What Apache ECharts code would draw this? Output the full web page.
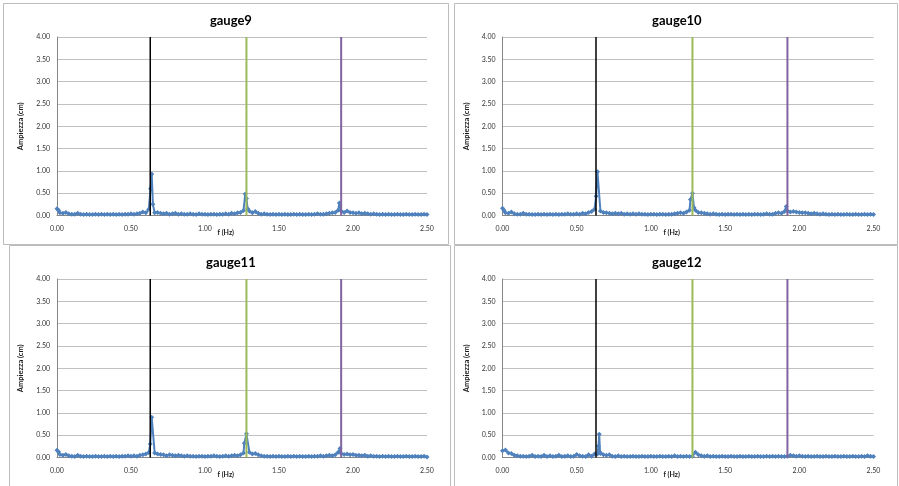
<!DOCTYPE html>
<html>
<head>
<meta charset="utf-8">
<script src="https://cdn.jsdelivr.net/npm/echarts@6/dist/echarts.min.js"></script>
<style>
html,body{margin:0;padding:0;background:#fff;}
#chart{width:899px;height:486px;}
</style>
</head>
<body>
<div id="chart"></div>
<script>
// Shared frequency grid (Hz)
const freq = [0.00,0.02,0.04,0.06,0.08,0.10,0.12,0.14,0.16,0.18,0.20,0.22,0.24,0.26,0.28,0.30,0.32,0.34,0.36,0.38,0.40,0.42,0.44,0.46,0.48,0.50,0.52,0.54,0.56,0.58,0.60,0.62,0.64,0.66,0.68,0.70,0.72,0.74,0.76,0.78,0.80,0.82,0.84,0.86,0.88,0.90,0.92,0.94,0.96,0.98,1.00,1.02,1.04,1.06,1.08,1.10,1.12,1.14,1.16,1.18,1.20,1.22,1.24,1.26,1.28,1.30,1.32,1.34,1.36,1.38,1.40,1.42,1.44,1.46,1.48,1.50,1.52,1.54,1.56,1.58,1.60,1.62,1.64,1.66,1.68,1.70,1.72,1.74,1.76,1.78,1.80,1.82,1.84,1.86,1.88,1.90,1.92,1.94,1.96,1.98,2.00,2.02,2.04,2.06,2.08,2.10,2.12,2.14,2.16,2.18,2.20,2.22,2.24,2.26,2.28,2.30,2.32,2.34,2.36,2.38,2.40,2.42,2.44,2.46,2.48,2.50];

const gauge9 = [0.15,0.06,0.05,0.07,0.04,0.03,0.03,0.05,0.03,0.02,0.03,0.02,0.02,0.03,0.02,0.03,0.02,0.03,0.02,0.03,0.02,0.03,0.02,0.03,0.03,0.04,0.03,0.04,0.05,0.08,0.06,0.14,0.93,0.06,0.07,0.05,0.04,0.05,0.03,0.04,0.05,0.03,0.04,0.03,0.03,0.04,0.03,0.02,0.04,0.03,0.03,0.02,0.03,0.03,0.02,0.03,0.03,0.04,0.03,0.05,0.04,0.06,0.07,0.11,0.38,0.10,0.06,0.09,0.05,0.03,0.04,0.03,0.02,0.03,0.02,0.03,0.02,0.03,0.02,0.02,0.03,0.02,0.03,0.02,0.02,0.03,0.02,0.03,0.04,0.03,0.03,0.04,0.05,0.06,0.07,0.12,0.10,0.07,0.10,0.07,0.06,0.05,0.06,0.04,0.05,0.04,0.03,0.04,0.03,0.02,0.03,0.02,0.03,0.02,0.02,0.03,0.02,0.02,0.03,0.02,0.02,0.03,0.02,0.02,0.03,0.02];
const gauge9Extra = [[0.01,0.12],[0.632,0.60],[0.648,0.25],[1.272,0.48],[1.288,0.15],[1.908,0.28]];

const gauge10 = [0.16,0.06,0.05,0.08,0.04,0.03,0.03,0.05,0.03,0.03,0.02,0.02,0.03,0.02,0.03,0.02,0.03,0.02,0.03,0.02,0.03,0.03,0.04,0.03,0.03,0.04,0.03,0.05,0.04,0.07,0.09,0.14,0.98,0.10,0.07,0.06,0.05,0.04,0.05,0.04,0.05,0.03,0.04,0.03,0.04,0.03,0.04,0.03,0.03,0.02,0.03,0.03,0.02,0.03,0.03,0.02,0.03,0.03,0.04,0.05,0.06,0.05,0.08,0.12,0.50,0.12,0.07,0.06,0.05,0.04,0.03,0.04,0.03,0.02,0.03,0.02,0.03,0.03,0.02,0.03,0.02,0.03,0.02,0.03,0.02,0.03,0.03,0.02,0.03,0.04,0.03,0.03,0.05,0.06,0.05,0.09,0.10,0.08,0.09,0.08,0.07,0.06,0.06,0.05,0.04,0.05,0.04,0.03,0.04,0.03,0.02,0.03,0.02,0.03,0.02,0.02,0.03,0.02,0.02,0.03,0.02,0.02,0.03,0.02,0.03,0.02];
const gauge10Extra = [[0.01,0.12],[0.631,0.43],[1.267,0.36],[1.29,0.18],[1.912,0.20]];

const gauge11 = [0.16,0.07,0.05,0.07,0.04,0.03,0.02,0.05,0.03,0.02,0.03,0.02,0.02,0.03,0.02,0.02,0.03,0.02,0.03,0.02,0.03,0.02,0.03,0.03,0.04,0.03,0.04,0.03,0.05,0.06,0.08,0.11,0.90,0.10,0.08,0.07,0.06,0.04,0.06,0.05,0.04,0.05,0.04,0.03,0.04,0.03,0.03,0.02,0.03,0.03,0.02,0.03,0.03,0.04,0.03,0.02,0.03,0.04,0.03,0.04,0.05,0.04,0.06,0.10,0.53,0.12,0.08,0.09,0.06,0.04,0.03,0.03,0.02,0.03,0.02,0.03,0.02,0.02,0.03,0.02,0.03,0.02,0.03,0.02,0.02,0.03,0.02,0.03,0.03,0.04,0.03,0.04,0.05,0.04,0.06,0.12,0.09,0.07,0.08,0.06,0.07,0.05,0.05,0.04,0.05,0.03,0.04,0.03,0.03,0.02,0.03,0.02,0.03,0.02,0.02,0.03,0.02,0.02,0.03,0.02,0.02,0.03,0.02,0.02,0.03,0.01];
const gauge11Extra = [[0.01,0.13],[0.630,0.30],[1.266,0.32],[1.912,0.20]];

const gauge12 = [0.15,0.17,0.10,0.09,0.05,0.04,0.03,0.03,0.02,0.03,0.05,0.02,0.03,0.02,0.05,0.02,0.04,0.02,0.03,0.05,0.02,0.03,0.04,0.02,0.03,0.07,0.04,0.03,0.02,0.06,0.03,0.08,0.08,0.09,0.06,0.05,0.06,0.03,0.02,0.04,0.02,0.03,0.02,0.02,0.03,0.02,0.02,0.03,0.02,0.02,0.03,0.02,0.02,0.03,0.02,0.02,0.03,0.02,0.04,0.02,0.03,0.02,0.03,0.02,0.03,0.12,0.06,0.04,0.03,0.04,0.02,0.03,0.02,0.02,0.03,0.02,0.02,0.03,0.02,0.02,0.03,0.02,0.02,0.03,0.02,0.02,0.03,0.02,0.02,0.03,0.02,0.03,0.02,0.03,0.02,0.02,0.03,0.05,0.04,0.03,0.04,0.03,0.02,0.03,0.02,0.02,0.03,0.02,0.02,0.03,0.02,0.02,0.03,0.02,0.02,0.03,0.02,0.02,0.03,0.02,0.02,0.03,0.02,0.04,0.03,0.02];
const gauge12Extra = [[0.647,0.26],[0.652,0.52],[0.657,0.12]];

const titles = ['gauge9','gauge10','gauge11','gauge12'];
const harmonicF = [0.63, 1.28, 1.92];
const harmonicColors = ['#000000', '#9BBB59', '#8064A2'];
const harmonicWidths = [1.5, 2, 2];

function buildSeries(vals, extra) {
  const pts = freq.map((f, i) => [f, vals[i]]).concat(extra);
  pts.sort((a, b) => a[0] - b[0]);
  return pts;
}
const allData = [
  buildSeries(gauge9, gauge9Extra),
  buildSeries(gauge10, gauge10Extra),
  buildSeries(gauge11, gauge11Extra),
  buildSeries(gauge12, gauge12Extra)
];

const grids = [
  {left: 57, top: 37, width: 370, height: 178.5},
  {left: 502.5, top: 37, width: 371, height: 178.5},
  {left: 57, top: 279, width: 370, height: 178.5},
  {left: 502.5, top: 279, width: 371, height: 178.5}
];

const FONT = 'Lato, "Open Sans", sans-serif';
const xAxes = [], yAxes = [], series = [], graphics = [];

// Panel borders
const borders = [[3,3,445,241],[454,3,443,241],[9,245,441,245],[454,245,443,245]];
borders.forEach(b => graphics.push({type:'rect', shape:{x:b[0]+0.5,y:b[1]+0.5,width:b[2],height:b[3]}, style:{fill:null, stroke:'#bdbdbd', lineWidth:1}, silent:true}));

grids.forEach((g, i) => {
  xAxes.push({
    type: 'value', gridIndex: i, min: 0, max: 2.5, interval: 0.5,
    axisLine: {show: true, lineStyle: {color: '#868686', width: 1}},
    axisTick: {show: false},
    splitLine: {show: false},
    axisLabel: {fontSize: 7, color: '#333333', fontFamily: FONT, margin: 10, formatter: v => v.toFixed(2)}
  });
  yAxes.push({
    type: 'value', gridIndex: i, min: 0, max: 4, interval: 0.5,
    name: 'Ampiezza (cm)', nameLocation: 'middle', nameGap: 32, nameRotate: 90,
    nameTextStyle: {fontSize: 7.5, fontWeight: 'bold', color: '#1a1a1a', fontFamily: FONT},
    axisLine: {show: true, lineStyle: {color: '#868686', width: 1}},
    axisTick: {show: false},
    splitLine: {show: true, lineStyle: {color: '#c0c0c0', width: 1}},
    axisLabel: {fontSize: 7, color: '#333333', fontFamily: FONT, margin: 7, formatter: v => v.toFixed(2)}
  });
  series.push({
    type: 'line', xAxisIndex: i, yAxisIndex: i, data: allData[i],
    symbol: 'diamond', symbolSize: 5, showSymbol: true,
    lineStyle: {color: '#4F81BD', width: 2},
    itemStyle: {color: '#4F81BD'},
    animation: false, z: 2
  });
  harmonicF.forEach((f, k) => {
    series.push({
      type: 'line', xAxisIndex: i, yAxisIndex: i, data: [[f, 0], [f, 4]],
      symbol: 'none', lineStyle: {color: harmonicColors[k], width: harmonicWidths[k]},
      animation: false, z: 3
    });
  });
  // Title
  graphics.push({type: 'text', x: g.left + g.width * 0.47, y: g.top - 16.5,
    style: {text: titles[i], font: 'bold 13px ' + FONT, fill: '#000', textAlign: 'center', textVerticalAlign: 'middle'}, silent: true});
  // X axis name
  graphics.push({type: 'text', x: g.left + g.width * 0.456, y: g.top + g.height + 17,
    style: {text: 'f (Hz)', font: 'bold 7px ' + FONT, fill: '#1a1a1a', textAlign: 'center', textVerticalAlign: 'middle'}, silent: true});
});

const chart = echarts.init(document.getElementById('chart'), null, {renderer: 'canvas'});
chart.setOption({
  backgroundColor: '#ffffff',
  animation: false,
  grid: grids,
  xAxis: xAxes,
  yAxis: yAxes,
  series: series,
  graphic: graphics
});
</script>
</body>
</html>
